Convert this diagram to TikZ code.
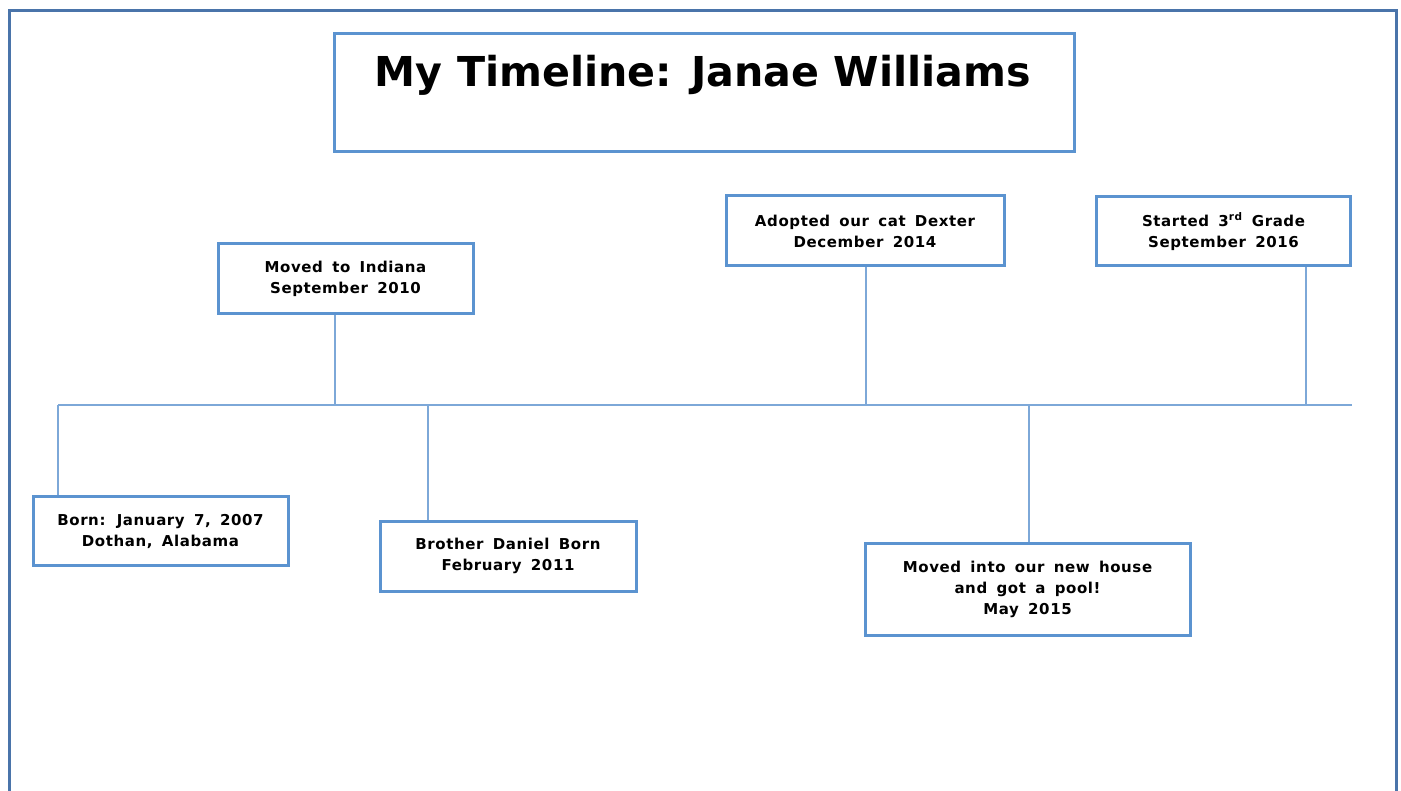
\documentclass[tikz,border=0pt]{standalone}
\usepackage{fontspec}
\setmainfont{DejaVu Sans}
\newfontfamily\evfont[LetterSpace=4,WordSpace=1.6]{DejaVu Sans}
\definecolor{framecol}{HTML}{4A74AA}
\definecolor{boxcol}{HTML}{5B93D0}
\definecolor{linecol}{HTML}{7DA8D8}
\begin{document}
\begin{tikzpicture}[x=1pt,y=-1pt,
  evbox/.style={draw=boxcol,line width=3pt,rectangle,inner sep=0pt,align=center,
     font=\evfont\fontsize{15}{21}\selectfont\bfseries},
  conn/.style={draw=linecol,line width=1.8pt}]
\clip (0,0) rectangle (1401,791);
\useasboundingbox (0,0) rectangle (1401,791);
\fill[white] (0,0) rectangle (1401,791);
\draw[framecol,line width=3pt] (9,800) -- (9,11) -- (1396,11) -- (1396,800);
% title
\node[draw=boxcol,line width=3pt,minimum width=740pt,minimum height=118pt,inner sep=0pt] (title) at (704,93) {};
\node[inner sep=0pt,anchor=base] (titletext) at (703,87) {\resizebox{656pt}{!}{\fontsize{44}{50}\selectfont\bfseries My Timeline: Janae Williams}};
% events
\node[evbox,minimum width=255pt,minimum height=70pt] (indiana) at (345.5,279) {Moved to Indiana\\September 2010};
\node[evbox,minimum width=278pt,minimum height=70pt] (dexter) at (865,231) {Adopted our cat Dexter\\December 2014};
\node[evbox,minimum width=254pt,minimum height=69pt] (grade) at (1223.5,231.5) {Started 3\textsuperscript{rd} Grade\\September 2016};
\node[evbox,minimum width=255pt,minimum height=68pt] (born) at (160.5,531) {Born: January 7, 2007\\Dothan, Alabama};
\node[evbox,minimum width=256pt,minimum height=70pt] (brother) at (508,556) {Brother Daniel Born\\February 2011};
\node[evbox,minimum width=325pt,minimum height=92pt] (house) at (1027.5,589) {Moved into our new house\\and got a pool!\\May 2015};
% timeline
\coordinate (tlL) at (58,405);
\coordinate (tlR) at (1352,405);
\coordinate (tI) at (335,405);
\coordinate (tB) at (428,405);
\coordinate (tD) at (866,405);
\coordinate (tH) at (1029,405);
\coordinate (tG) at (1306,405);
\draw[conn] (tlL) -- (tlR);
\draw[conn] (tlL) -- (tlL |- born.north);
\draw[conn] (tI) -- (tI |- indiana.south);
\draw[conn] (tB) -- (tB |- brother.north);
\draw[conn] (tD) -- (tD |- dexter.south);
\draw[conn] (tH) -- (tH |- house.north);
\draw[conn] (tG) -- (tG |- grade.south);
\end{tikzpicture}
\end{document}
